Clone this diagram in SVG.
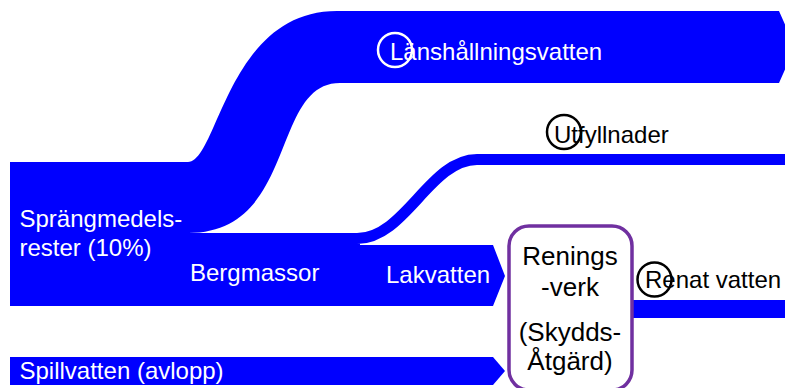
<svg xmlns="http://www.w3.org/2000/svg" width="785" height="388" viewBox="0 0 785 388">
  <style>
    .flow { fill: #0000FF; stroke: none; }
    .lbl { font-family: "Liberation Sans", Arial, sans-serif; font-size: 24px; }
    .w { fill: #FFFFFF; }
    .k { fill: #000000; }
    .box { fill: #FFFFFF; stroke: #7030A0; stroke-width: 3.5; }
    .boxt { font-family: "Liberation Sans", Arial, sans-serif; font-size: 26px; fill: #000000; text-anchor: middle; }
    .mark { fill: none; stroke-width: 2.5; }
  </style>
  <rect width="785" height="388" fill="#FFFFFF"/>
  <g id="connectors">
    <path id="lanshallningsvatten" class="flow" d="M 10,162 H 188 C 218,162 227,11 337,11 H 779 L 795,47 L 779,83 H 340 C 270,83 298,233 188,233 H 10 Z"/>
    <path id="utfyllnader" d="M 10,238.5 H 357 C 405,238.5 430,159.5 477,159.5 H 785" fill="none" stroke="#0000FF" stroke-width="11"/>
    <rect class="flow" x="10" y="162" width="180" height="144"/>
    <path id="lakvatten" class="flow" d="M 10,243.5 H 360 L 360,245 H 493 L 505,276 L 493,306 H 10 Z"/>
    <path id="spillvatten" class="flow" d="M 10,357 H 493 L 505,371 L 493,385 H 10 Z"/>
    <rect id="renat-vatten" class="flow" x="632" y="300" width="153" height="18"/>
  </g>
  <g id="source">
    <text class="lbl w" x="19.5" y="227">Sprängmedels-</text>
    <text class="lbl w" x="19.5" y="256">rester (10%)</text>
  </g>
  <g id="bergmassor">
    <text class="lbl w" x="190" y="281">Bergmassor</text>
  </g>
  <g id="lakvatten-label">
    <text class="lbl w" x="386" y="283">Lakvatten</text>
  </g>
  <g id="spillvatten-label">
    <text class="lbl w" x="19.5" y="379">Spillvatten (avlopp)</text>
  </g>
  <g id="lanshallningsvatten-label">
    <circle class="mark" cx="395" cy="50" r="17" stroke="#FFFFFF"/>
    <text class="lbl w" x="390" y="60">Länshållningsvatten</text>
  </g>
  <g id="utfyllnader-label">
    <circle class="mark" cx="564" cy="132" r="17" stroke="#000000"/>
    <text class="lbl k" x="554" y="142.5">Utfyllnader</text>
  </g>
  <g id="reningsverk">
    <rect class="box" x="509" y="226" width="123" height="164" rx="20" ry="20"/>
    <text class="boxt" x="570" y="265">Renings</text>
    <text class="boxt" x="570" y="296">-verk</text>
    <text class="boxt" x="570" y="341">(Skydds-</text>
    <text class="boxt" x="570" y="370">Åtgärd)</text>
  </g>
  <g id="renat-vatten-label">
    <circle class="mark" cx="654.5" cy="279.5" r="17" stroke="#000000"/>
    <text class="lbl k" x="645" y="288">Renat vatten</text>
  </g>
</svg>
